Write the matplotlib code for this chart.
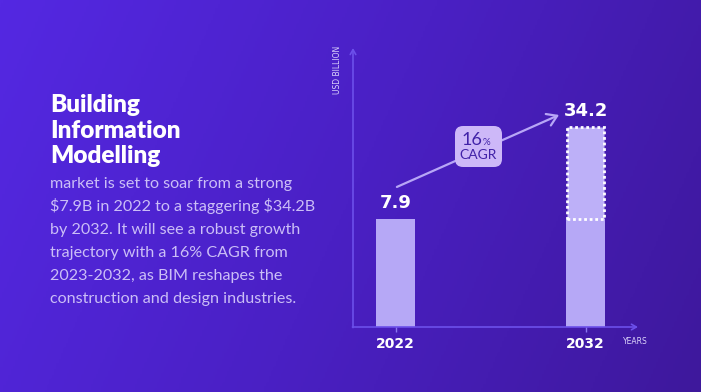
import numpy as np
import matplotlib.pyplot as plt
from matplotlib.colors import LinearSegmentedColormap
from matplotlib.patches import FancyBboxPatch
from matplotlib.transforms import Affine2D

# data
years = ['2022', '2032']
values = [7.9, 34.2]
cagr = '16'
title_lines = ['Building', 'Information', 'Modelling']
body_lines = [
    'market is set to soar from a strong',
    '$7.9B in 2022 to a staggering $34.2B',
    'by 2032. It will see a robust growth',
    'trajectory with a 16% CAGR from',
    '2023-2032, as BIM reshapes the',
    'construction and design industries.',
]

W, H = 701, 392
fig = plt.figure(figsize=(W / 100, H / 100), dpi=100)
px = Affine2D().scale(1 / W, 1 / H) + fig.transFigure  # pixel coords, origin bottom-left

# background gradient
bg = fig.add_axes([0, 0, 1, 1], zorder=-10)
xx, yy = np.meshgrid(np.linspace(0, 1, 300), np.linspace(0, 1, 200))
grad = 0.8 * xx + 0.2 * yy
cmap = LinearSegmentedColormap.from_list('bg', ['#5428E2', '#4A20C4', '#3E189C'])
bg.imshow(grad, cmap=cmap, aspect='auto', extent=[0, 1, 0, 1], origin='upper')
bg.axis('off')

# title + body text
for i, line in enumerate(title_lines):
    fig.text(50, H - 112 - i * 25.5, line, transform=px, fontsize=17.5, fontweight='heavy',
             color='white', family='Lato', va='baseline')
for i, line in enumerate(body_lines):
    fig.text(50, H - 188 - i * 23, line, transform=px, fontsize=11.6,
             color='#CBBEF7', family='Lato', va='baseline', parse_math=False)

# chart axes
ax = fig.add_axes([353 / W, 1 - 327 / H, 285 / W, 279 / H])
ax.set_facecolor('none')
for s in ax.spines.values():
    s.set_visible(False)

ymin, ymax = 1.41, 121
ax.set_yscale('log')
ax.set_ylim(ymin, ymax)
ax.set_xlim(-0.2237, 1.276)

x = np.arange(len(years))
bar_col = '#B6A8F6'
bw = 0.205
# 2022 bar and the base of 2032 bar at the same level
ax.bar(x, [values[0] - ymin] * 2, bottom=ymin, width=bw, color=bar_col, zorder=3)
# growth part of 2032 bar, dotted outline
ax.bar(x[1], values[1] - values[0], bottom=values[0], width=bw - 0.012,
       facecolor='#BDB0F8', edgecolor='white', linewidth=2, linestyle=(0, (1, 1)), zorder=4)

for xi, v in zip(x, values):
    ax.annotate(f'{v:.1f}', (xi, v), xytext=(0, 8), textcoords='offset points',
                ha='center', va='baseline', fontsize=13, fontweight='bold',
                color='white', family='DejaVu Sans', zorder=5)

ax.set_yticks([])
ax.yaxis.set_minor_locator(plt.NullLocator())
ax.set_xticks(x)
ax.set_xticklabels(years, fontsize=10, fontweight='bold', color='white', family='DejaVu Sans')
ax.tick_params(axis='x', direction='inout', length=7, width=1, color='#8C78F0', pad=3.5)

# axis arrows
axis_col = '#6C50EA'
ax.annotate('', xy=(0, 1), xytext=(0, -0.002), xycoords='axes fraction',
            arrowprops=dict(arrowstyle='->,head_length=0.35,head_width=0.2', color=axis_col, lw=1.2,
                            shrinkA=0, shrinkB=0))
ax.annotate('', xy=(1, 0), xytext=(-0.002, 0), xycoords='axes fraction',
            arrowprops=dict(arrowstyle='->,head_length=0.35,head_width=0.2', color=axis_col, lw=1.2,
                            shrinkA=0, shrinkB=0))

fig.text(338, H - 70, 'USD BILLION', transform=px, rotation=90, fontsize=5.5,
         color='#DCD4FB', ha='center', va='center', family='DejaVu Sans')
fig.text(623, H - 342, 'YEARS', transform=px, fontsize=5.5,
         color='#DCD4FB', ha='left', va='center', family='DejaVu Sans')

# growth arrow
ax.annotate('', xy=(0.723, 0.760), xytext=(0.154, 0.502), xycoords='axes fraction',
            arrowprops=dict(arrowstyle='->,head_length=0.7,head_width=0.45', color='#B7A6F6', lw=1.6,
                            shrinkA=0, shrinkB=0), zorder=2)

# CAGR badge
badge = FancyBboxPatch((455, H - 167), 47, 41, boxstyle='round,pad=0,rounding_size=8',
                       transform=px, facecolor='#CDB8F8', edgecolor='none', zorder=6)
fig.patches.append(badge)
fig.text(482, H - 145, cagr, transform=px, fontsize=13, color='#4122A8', family='Lato',
         ha='right', va='baseline', zorder=7)
fig.text(482.5, H - 145, '%', transform=px, fontsize=7, color='#4122A8', family='Lato',
         ha='left', va='baseline', zorder=7)
fig.text(478.5, H - 155, 'CAGR', transform=px, fontsize=10, color='#4122A8', family='Lato',
         ha='center', va='center', zorder=7)

fig.savefig('out.png', dpi=100)
